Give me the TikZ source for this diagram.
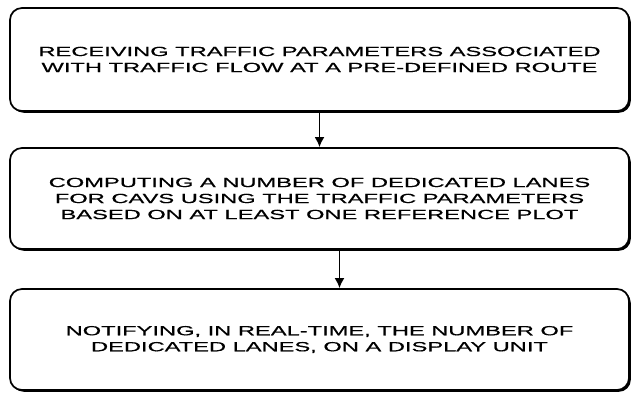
\documentclass[tikz,border=0pt]{standalone}
\usepackage{fontspec}
\newfontfamily\flowfont[FakeStretch=1.78,FakeBold=0.6]{Liberation Sans}
\usetikzlibrary{arrows.meta,shadows}
\tikzset{
    stepbox/.style={draw, line width=1.7pt, rounded corners=12pt, fill=white,
        minimum width=619pt, inner sep=0pt, align=center,
        font=\flowfont\fontsize{13.3}{16}\selectfont,
        drop shadow={shadow xshift=1.8pt, shadow yshift=-1.8pt, fill=black, opacity=1}},
    flowarrow/.style={-{Latex[length=10pt,width=10pt]}, line width=1.8pt}
}
\begin{document}
\begin{tikzpicture}[x=1pt, y=1pt]
    \useasboundingbox (0,0) rectangle (635,393);
        \node[stepbox, minimum height=103pt] (receive) at (319.5,333.5)
            {RECEIVING TRAFFIC PARAMETERS ASSOCIATED\\WITH TRAFFIC FLOW AT A PRE-DEFINED ROUTE};
        \node[stepbox, minimum height=101pt] (compute) at (319.5,194.5)
            {COMPUTING A NUMBER OF DEDICATED LANES\\FOR CAVS USING THE TRAFFIC PARAMETERS\\BASED ON AT LEAST ONE REFERENCE PLOT};
        \node[stepbox, minimum height=101pt] (notify) at (319.5,53.5)
            {NOTIFYING, IN REAL-TIME, THE NUMBER OF\\DEDICATED LANES, ON A DISPLAY UNIT};
        \draw[flowarrow] (receive) -- (compute);
        \draw[flowarrow] ([xshift=20pt]compute.south) -- ([xshift=20pt]notify.north);
%        \draw[flowarrow] (compute) -- (notify);

    \end{tikzpicture}
\end{document}
